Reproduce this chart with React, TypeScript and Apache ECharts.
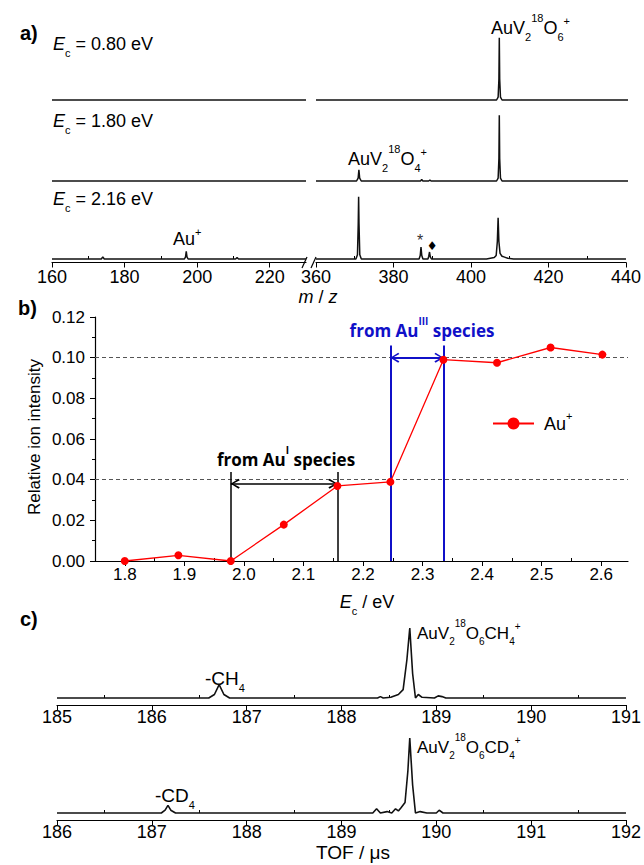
import React, { useEffect, useRef } from 'react';
import * as echarts from 'echarts';

// ---------------- data ----------------
// a) mass spectra at three collision energies (m/z, intensity in a.u.)
const aEnergyLabels = ['0.80', '1.80', '2.16'];
const aLowRange = [160, 230];
const aHighRange = [360, 440];
const aLowTicks = [160, 180, 200, 220];
const aLowMinorTicks = [170, 190, 210];
const aHighTicks = [360, 380, 400, 420, 440];
const aHighMinorTicks = [370, 390, 410, 430];

const aLow080 = [[160, 0], [230, 0]];
const aHigh080 = [[360, 0], [406.3, 0], [406.7, 4], [406.9, 30], [407, 89], [407.1, 30], [407.3, 4], [407.7, 0], [440, 0]];
const aLow180 = [[160, 0], [230, 0]];
const aHigh180 = [[360, 0], [370.4, 0], [370.8, 4], [371, 16], [371.2, 4], [371.6, 0], [386.8, 0], [387.1, 2], [387.4, 0], [388.9, 0], [389.2, 1.5], [389.5, 0], [406.3, 0], [406.7, 4], [406.9, 32], [407, 94], [407.1, 32], [407.3, 4], [407.7, 0], [440, 0]];
const aLow216 = [[160, 0], [173.6, 0], [174, 3], [174.4, 0], [196.5, 0], [196.8, 3], [197, 11], [197.2, 3], [197.5, 0], [210.6, 0], [211, 2], [211.4, 0], [230, 0]];
const aHigh216 = [[360, 0], [370.3, 0], [370.7, 6], [370.9, 50], [371, 89], [371.1, 50], [371.3, 6], [371.7, 0], [386.6, 0], [386.9, 5], [387.1, 17], [387.3, 5], [387.6, 0], [388.9, 0], [389.1, 4], [389.3, 10], [389.5, 3], [389.8, 0], [404, 0], [405, 1], [406, 2], [406.5, 5], [406.8, 25], [407, 59], [407.2, 25], [407.5, 8], [408, 4], [408.5, 3], [409, 2], [409.5, 1], [411, 0], [440, 0]];

// b) relative Au+ intensity vs collision energy
const bEnergy = [1.8, 1.89, 1.978, 2.067, 2.157, 2.246, 2.335, 2.425, 2.515, 2.602];
const bAuPlus = [0.0, 0.0028, 0.0, 0.0179, 0.0369, 0.0389, 0.099, 0.0975, 0.105, 0.1015];
const bXTicks = [1.8, 1.9, 2.0, 2.1, 2.2, 2.3, 2.4, 2.5, 2.6];
const bXMinorTicks = [1.85, 1.95, 2.05, 2.15, 2.25, 2.35, 2.45, 2.55];
const bLevels = [0.1, 0.038];
const bAuIRange = [1.978, 2.157];
const bAuIIIRange = [2.246, 2.335];
const bBracketTops = [0.0438, 0.106];

// c) TOF spectra (µs, intensity in a.u.)
const cTopTicks = [185, 186, 187, 188, 189, 190, 191];
const cTopMinorTicks = [185.5, 186.5, 187.5, 188.5, 189.5, 190.5];
const cBotTicks = [186, 187, 188, 189, 190, 191, 192];
const cBotMinorTicks = [186.5, 187.5, 188.5, 189.5, 190.5, 191.5];
const cCH4 = [[185, 0], [186.6, 0], [186.66, 5], [186.71, 19], [186.76, 5], [186.82, 0], [188.38, 0], [188.41, 2], [188.44, 0], [188.52, 1], [188.6, 5], [188.65, 12], [188.69, 55], [188.72, 100], [188.75, 35], [188.78, 0], [188.81, 5], [188.85, 1], [188.98, 0], [189.02, 3], [189.06, 2], [189.1, 0], [191, 0]];
const cCD4 = [[186, 0], [187.1, 0], [187.14, 4], [187.17, 11], [187.2, 4], [187.25, 0], [189.33, 0], [189.37, 6], [189.41, 0], [189.48, 2], [189.53, 0], [189.57, 6], [189.6, 3], [189.63, 8], [189.67, 15], [189.7, 60], [189.72, 107], [189.75, 40], [189.78, 0], [189.83, 2], [189.9, 0], [190.0, 0], [190.03, 4], [190.07, 0], [192, 0]];

// ---------------- styling helpers ----------------
const SANS = '"Liberation Sans", Arial, Helvetica, sans-serif';
const BOLD = '"Open Sans", "Liberation Sans", sans-serif';
const BLUE = '#1010c8';
const CHEVRON = 'path://M5,-9L5,-9M5,0L10,8L8.6,9.2L5,2.4L1.4,9.2L0,8Z';

function richSet(F: number, family = SANS, weight = 'normal', fill = '#000') {
  const L = Math.round(F * 1.45);
  const small = Math.round(F * 0.6);
  const hsup = Math.max(2, L - 1.12 * F);
  const hsub = Math.max(2, L - 1.0 * F);
  const hp = L - 0.82 * F;
  const base = { fontFamily: family, fontWeight: weight, fill, color: fill };
  return {
    n: { ...base, fontSize: F, lineHeight: L },
    i: { ...base, fontSize: F, lineHeight: L, fontStyle: 'italic' },
    sup: { ...base, fontSize: small, lineHeight: hsup, height: hsup, verticalAlign: 'top' },
    sub: { ...base, fontSize: small, lineHeight: hsub, height: hsub, verticalAlign: 'bottom' },
    plus: { ...base, fontSize: small, lineHeight: hp, height: hp, verticalAlign: 'top' },
  };
}

function label(x: number, capTop: number, F: number, text: string, opts: any = {}) {
  const L = Math.round(F * 1.45);
  const family = opts.family || SANS;
  const weight = opts.weight || 'normal';
  const fill = opts.fill || '#000';
  return {
    type: 'text',
    x,
    y: capTop - (L / 2 - 0.36 * F),
    silent: true,
    style: {
      text,
      rich: richSet(F, family, weight, fill),
      fontFamily: family,
      fontSize: F,
      fontWeight: weight,
      fill,
      lineHeight: L,
      align: opts.align || 'left',
      verticalAlign: 'top',
    },
  };
}

function plain(x: number, y: number, F: number, text: string, opts: any = {}) {
  return {
    type: 'text',
    x,
    y,
    rotation: opts.rotation || 0,
    silent: true,
    style: {
      text,
      fontFamily: opts.family || SANS,
      fontSize: F,
      fontWeight: opts.weight || 'normal',
      fill: opts.fill || '#000',
      align: opts.align || 'left',
      verticalAlign: 'middle',
    },
  };
}

const axisBase = (F: number, margin: number) => ({
  axisLine: { show: true, onZero: false, lineStyle: { color: '#000', width: 1.2 } },
  axisLabel: { color: '#000', fontSize: F, fontFamily: SANS, margin },
  splitLine: { show: false },
});

function majorX(grid: number, min: number, max: number, ticks: number[], F: number, margin: number, fmt?: (v: number) => string) {
  const base: any = axisBase(F, margin);
  return {
    type: 'value', gridIndex: grid, min, max, ...base,
    axisTick: { show: true, length: 5, customValues: ticks, lineStyle: { color: '#000' } },
    axisLabel: { ...base.axisLabel, customValues: ticks, formatter: fmt || ((v: number) => String(v)) },
  };
}
function minorX(grid: number, min: number, max: number, ticks: number[]) {
  return {
    type: 'value', gridIndex: grid, min, max,
    axisLine: { show: false },
    axisLabel: { show: false },
    splitLine: { show: false },
    axisTick: { show: true, length: 3, customValues: ticks, lineStyle: { color: '#000' } },
  };
}

function buildOption() {
  const rowTops = [30, 111, 189];
  const aRows = [
    [aLow080, aHigh080],
    [aLow180, aHigh180],
    [aLow216, aHigh216],
  ];
  const grid: any[] = [];
  const xAxis: any[] = [];
  const yAxis: any[] = [];
  const series: any[] = [];

  aRows.forEach((row, r) => {
    [0, 1].forEach((side) => {
      const gi = r * 2 + side;
      grid.push(side === 0
        ? { left: 52, width: 254, top: rowTops[r], height: 73.5 }
        : { left: 316, width: 312, top: rowTops[r], height: 73.5 });
      const range = side === 0 ? aLowRange : aHighRange;
      if (r === 2) {
        xAxis.push(majorX(gi, range[0], range[1], side === 0 ? aLowTicks : aHighTicks, 18, 5));
      } else {
        xAxis.push({ type: 'value', gridIndex: gi, min: range[0], max: range[1], show: false });
      }
      yAxis.push({ type: 'value', gridIndex: gi, min: -5, max: 100, show: false });
      series.push({
        type: 'line', xAxisIndex: gi, yAxisIndex: gi, data: row[side], showSymbol: false,
        lineStyle: { color: '#111', width: 1.5 }, silent: true,
      });
    });
  });

  // b
  grid.push({ left: 95, top: 317, width: 533, height: 244 });
  xAxis.push(majorX(6, 1.75, 2.645, bXTicks, 17, 5, (v: number) => v.toFixed(1)));
  yAxis.push({
    type: 'value', gridIndex: 6, min: 0, max: 0.12, interval: 0.02,
    ...axisBase(17, 10),
    axisLabel: { color: '#000', fontSize: 17, fontFamily: SANS, margin: 10, formatter: (v: number) => v.toFixed(2) },
    axisTick: { show: true, length: 5, lineStyle: { color: '#000' } },
    minorTick: { show: true, splitNumber: 2, length: 3, lineStyle: { color: '#000' } },
  });

  const vLine = (x: number, top: number, color: string, width: number) => [
    { coord: [x, 0], symbol: 'none', lineStyle: { color, width, type: 'solid' } },
    { coord: [x, top], symbol: 'none' },
  ];
  const arrow = (x1: number, x2: number, y: number, color: string, width: number) => [
    { coord: [x1, y], symbol: CHEVRON, symbolSize: [10, 18], lineStyle: { color, width, type: 'solid' } },
    { coord: [x2, y], symbol: CHEVRON, symbolSize: [10, 18] },
  ];

  series.push({
    name: 'Au+', type: 'line', xAxisIndex: 6, yAxisIndex: 6,
    data: bEnergy.map((x, i) => [x, bAuPlus[i]]),
    symbol: 'circle', symbolSize: 8, showSymbol: true,
    itemStyle: { color: '#ff0000' },
    lineStyle: { color: '#ff0000', width: 1.3 },
    z: 5,
    markLine: {
      silent: true, symbol: 'none', label: { show: false }, emphasis: { disabled: true },
      lineStyle: { color: '#555', type: [4, 3], width: 1 },
      data: [
        { yAxis: bLevels[0] }, { yAxis: bLevels[1] },
        vLine(bAuIRange[0], bBracketTops[0], '#000', 1.5),
        vLine(bAuIRange[1], bBracketTops[0], '#000', 1.5),
        arrow(bAuIRange[0], bAuIRange[1], bLevels[1], '#000', 1.5),
        vLine(bAuIIIRange[0], bBracketTops[1], BLUE, 2),
        vLine(bAuIIIRange[1], bBracketTops[1], BLUE, 2),
        arrow(bAuIIIRange[0], bAuIIIRange[1], bLevels[0], BLUE, 2),
      ],
    },
  });

  // c
  grid.push({ left: 57, width: 570, top: 628, height: 77 });
  grid.push({ left: 57, width: 570, top: 738.1, height: 81.9 });
  xAxis.push(majorX(7, 185, 191, cTopTicks, 18, 3));
  xAxis.push(majorX(8, 186, 192, cBotTicks, 18, 3));
  yAxis.push({ type: 'value', gridIndex: 7, min: -10, max: 100, show: false });
  yAxis.push({ type: 'value', gridIndex: 8, min: -10, max: 107, show: false });
  series.push({ type: 'line', xAxisIndex: 7, yAxisIndex: 7, data: cCH4, showSymbol: false, lineStyle: { color: '#111', width: 1.6 }, silent: true });
  series.push({ type: 'line', xAxisIndex: 8, yAxisIndex: 8, data: cCD4, showSymbol: false, lineStyle: { color: '#111', width: 1.6 }, silent: true });

  // minor ticks
  xAxis.push(minorX(4, aLowRange[0], aLowRange[1], aLowMinorTicks));
  xAxis.push(minorX(5, aHighRange[0], aHighRange[1], aHighMinorTicks));
  xAxis.push(minorX(6, 1.75, 2.645, bXMinorTicks));
  xAxis.push(minorX(7, 185, 191, cTopMinorTicks));
  xAxis.push(minorX(8, 186, 192, cBotMinorTicks));

  const graphic: any[] = [
    plain(20, 33, 20, 'a)', { weight: 'bold' }),
    plain(18, 308, 20, 'b)', { weight: 'bold' }),
    plain(20, 619, 20, 'c)', { weight: 'bold' }),
    label(53, 38, 18, `{i|E}{sub|c}{n| = ${aEnergyLabels[0]} eV}`),
    label(53, 115, 18, `{i|E}{sub|c}{n| = ${aEnergyLabels[1]} eV}`),
    label(53, 193, 18, `{i|E}{sub|c}{n| = ${aEnergyLabels[2]} eV}`),
    label(491, 22, 18, '{n|AuV}{sub|2}{sup|18}{n|O}{sub|6}{plus|+}'),
    label(348, 153, 18, '{n|AuV}{sub|2}{sup|18}{n|O}{sub|4}{plus|+}'),
    label(173, 233, 18, '{n|Au}{plus|+}'),
    plain(420, 240, 16, '*', { fill: '#333', align: 'center' }),
    plain(432, 246, 12, '\u2666', { family: '"DejaVu Sans", sans-serif', align: 'center' }),
    label(318, 291, 18, '{i|m}{n| / }{i|z}', { align: 'center' }),
    // axis break marks
    { type: 'line', silent: true, shape: { x1: 302, y1: 268, x2: 307, y2: 257 }, style: { stroke: '#000', lineWidth: 1.2 } },
    { type: 'line', silent: true, shape: { x1: 311, y1: 268, x2: 316, y2: 257 }, style: { stroke: '#000', lineWidth: 1.2 } },
    // b
    plain(34, 437, 17, 'Relative ion intensity', { rotation: Math.PI / 2, align: 'center' }),
    label(286, 453, 17, '{n|from Au}{sup|I}{n| species}', { align: 'center', family: BOLD, weight: 'bold' }),
    label(422, 324, 17, '{n|from Au}{sup|III}{n| species}', { align: 'center', family: BOLD, weight: 'bold', fill: BLUE }),
    label(367, 596, 18, '{i|E}{sub|c}{n| / eV}', { align: 'center' }),
    // c
    label(205, 672, 19, '{n|-CH}{sub|4}'),
    label(417, 627, 17, '{n|AuV}{sub|2}{sup|18}{n|O}{sub|6}{n|CH}{sub|4}{plus|+}'),
    label(155, 789, 19, '{n|-CD}{sub|4}'),
    label(417, 741, 17, '{n|AuV}{sub|2}{sup|18}{n|O}{sub|6}{n|CD}{sub|4}{plus|+}'),
    plain(353, 852, 19, 'TOF / \u03bcs', { align: 'center' }),
  ];

  return {
    animation: false,
    backgroundColor: '#fff',
    grid,
    xAxis,
    yAxis,
    series,
    graphic,
    legend: {
      data: ['Au+'],
      left: 492, top: 410.5, padding: 0,
      itemWidth: 41, itemHeight: 15, selectedMode: false,
      formatter: () => '{n|Au}{plus|+}',
      textStyle: { fontSize: 18, fontFamily: SANS, color: '#000', padding: [0, 0, 0, 5], rich: richSet(18) },
    },
  };
}

export default function App() {
  const ref = useRef<HTMLDivElement>(null);
  useEffect(() => {
    document.body.style.margin = '0';
    const chart = echarts.init(ref.current!, undefined, { renderer: 'svg' });
    chart.setOption(buildOption() as any);
    return () => chart.dispose();
  }, []);
  return <div ref={ref} style={{ width: 644, height: 865, position: 'absolute', left: 0, top: 0 }} />;
}
